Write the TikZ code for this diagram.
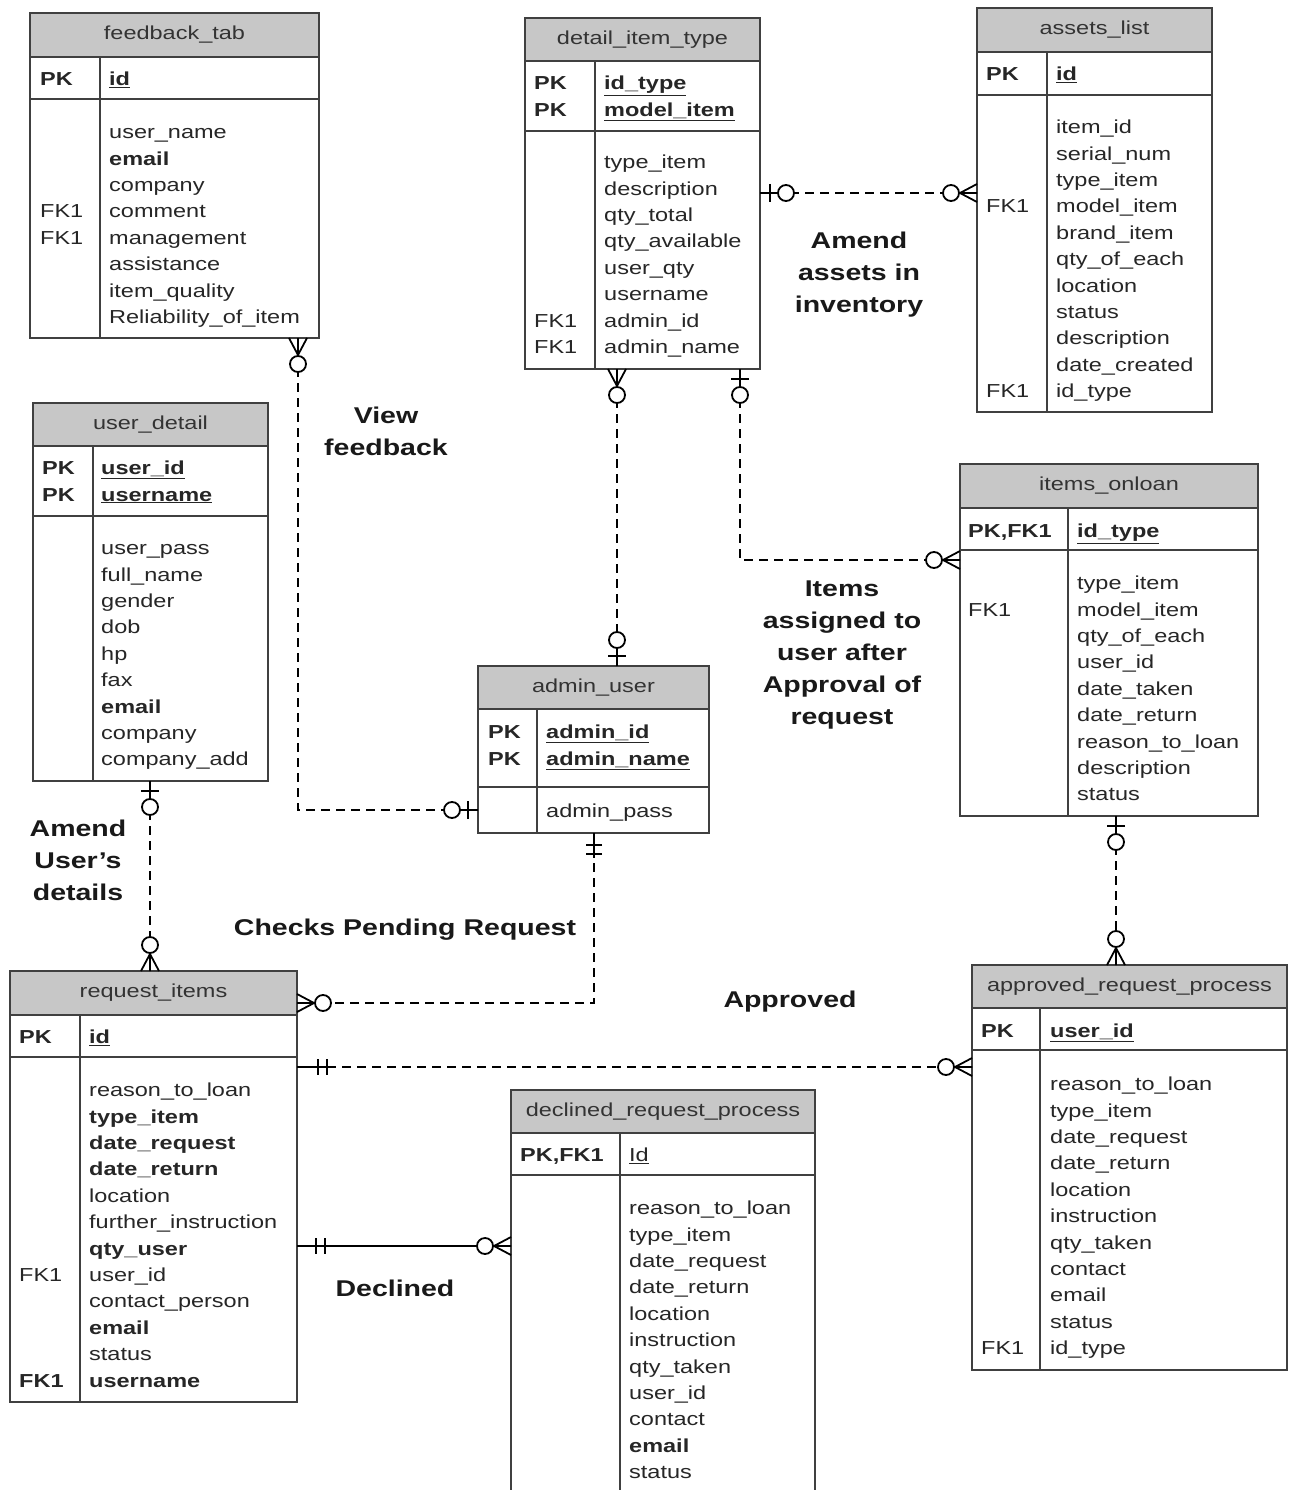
\documentclass[tikz,border=0pt]{standalone}
\usepackage{fontspec}
\setmainfont{Liberation Sans}[FakeStretch=1.25]
\usepackage{tikz}
\definecolor{hdrgray}{gray}{0.78}
\definecolor{tblgray}{gray}{0.25}
\tikzset{tbl/.style={draw=tblgray,line width=1.6pt,outer sep=0pt,inner sep=0pt}}
\tikzset{tblhead/.style={tbl,fill=hdrgray,text=black!80,
                         font=\fontsize{18.8}{22}\selectfont}}
\tikzset{tblrow/.style={tbl,fill=white}}
\tikzset{keytext/.style={anchor=mid west,inner sep=0pt,yshift=-5pt,text=black!85,
                         font=\fontsize{18.8}{22}\selectfont}}
\tikzset{fieldtext/.style={keytext}}
\tikzset{rel/.style={line width=1.8pt,dash pattern=on 9pt off 6pt}}
\tikzset{relsolid/.style={line width=1.8pt}}
\tikzset{ermark/.style={line width=1.8pt,solid}}
\tikzset{reltext/.style={font=\fontsize{22.8}{32}\selectfont\bfseries,
                         align=center,text=black!90}}
\newcommand{\pkf}[1]{\underline{\textbf{#1}}}
% name, title, left, right, top, head bottom, key bottom, bottom, divider
\newcommand{\ertable}[9]{%
  \node[tblhead,minimum width={(#4-#3)*1pt},minimum height={(#6-#5)*1pt}]
       (#1) at ({(#3+#4)/2},{(#5+#6)/2}) {#2};
  \node[tblrow,minimum width={(#4-#3)*1pt},minimum height={(#7-#6)*1pt}]
       (#1-key) at ({(#3+#4)/2},{(#6+#7)/2}) {};
  \node[tblrow,minimum width={(#4-#3)*1pt},minimum height={(#8-#7)*1pt}]
       (#1-body) at ({(#3+#4)/2},{(#7+#8)/2}) {};
  \draw[tbl] (#9,#6) -- (#9,#8);}
% prefix, key x, field x, first row y, key/field list
\newcommand{\fields}[5]{%
  \foreach \k/\f [count=\i from 0] in {#5}{%
    \node[keytext] (#1-k\i) at (#2,{#4+26.4*\i}) {\k};
    \node[fieldtext] (#1-f\i) at (#3,{#4+26.4*\i}) {\f};
  }}
\newcommand{\zeromany}[2]{\begin{scope}[shift={(#1)},rotate=#2]
    \draw[ermark] (0,-9) -- (17,0) -- (0,9) (0,0) -- (18,0);
    \draw[ermark,fill=white] (26,0) circle (8);
  \end{scope}}
\newcommand{\zeroone}[2]{\begin{scope}[shift={(#1)},rotate=#2]
    \draw[ermark] (0,0) -- (18,0) (10,-9) -- (10,9);
    \draw[ermark,fill=white] (26,0) circle (8);
  \end{scope}}
\newcommand{\onlyone}[3]{\begin{scope}[shift={(#1)},rotate=#2]
    \draw[ermark] (0,0) -- ({#3+13},0) (#3,-8) -- (#3,8)
                  ({#3+9},-8) -- ({#3+9},8);
  \end{scope}}

\begin{document}
\begin{tikzpicture}[x=1pt,y=-1pt]
    \useasboundingbox[fill=white] (0,0) rectangle (1293,1490);
    % Tables
    \ertable{fb}{feedback\_tab}{30}{319}{13}{57}{99}{338}{100}
    \fields{fb-p}{40}{109}{78}{\textbf{PK}/\pkf{id}}
    \fields{fb-a}{40}{109}{131}{/user\_name,/\textbf{email},/company,
        FK1/comment,FK1/management,/assistance,/item\_quality,
        /Reliability\_of\_item}

    \ertable{dit}{detail\_item\_type}{525}{760}{18}{61}{131}{369}{595}
    \fields{dit-p}{534}{604}{82}{\textbf{PK}/\pkf{id\_type},
        \textbf{PK}/\pkf{model\_item}}
    \fields{dit-a}{534}{604}{161}{/type\_item,/description,/qty\_total,
        /qty\_available,/user\_qty,/username,FK1/admin\_id,FK1/admin\_name}

    \ertable{al}{assets\_list}{977}{1212}{8}{52}{95}{412}{1047}
    \fields{al-p}{986}{1056}{73}{\textbf{PK}/\pkf{id}}
    \fields{al-a}{986}{1056}{126}{/item\_id,/serial\_num,/type\_item,
        FK1/model\_item,/brand\_item,/qty\_of\_each,/location,/status,
        /description,/date\_created,FK1/id\_type}

    \ertable{ud}{user\_detail}{33}{268}{403}{446}{516}{781}{93}
    \fields{ud-p}{42}{101}{467}{\textbf{PK}/\pkf{user\_id},
        \textbf{PK}/\pkf{username}}
    \fields{ud-a}{42}{101}{547}{/user\_pass,/full\_name,/gender,/dob,/hp,
        /fax,/\textbf{email},/company,/company\_add}

    \ertable{au}{admin\_user}{478}{709}{666}{709}{787}{833}{537}
    \fields{au-p}{488}{546}{731}{\textbf{PK}/\pkf{admin\_id},
        \textbf{PK}/\pkf{admin\_name}}
    \fields{au-a}{488}{546}{810}{/admin\_pass}

    \ertable{io}{items\_onloan}{960}{1258}{464}{508}{550}{816}{1068}
    \fields{io-p}{968}{1077}{530}{\textbf{PK,FK1}/\pkf{id\_type}}
    \fields{io-a}{968}{1077}{582}{/type\_item,FK1/model\_item,
        /qty\_of\_each,/user\_id,/date\_taken,/date\_return,
        /reason\_to\_loan,/description,/status}

    \ertable{ri}{request\_items}{10}{297}{971}{1015}{1057}{1402}{80}
    \fields{ri-p}{19}{89}{1036}{\textbf{PK}/\pkf{id}}
    \fields{ri-a}{19}{89}{1089}{/reason\_to\_loan,/\textbf{type\_item},
        /\textbf{date\_request},/\textbf{date\_return},/location,
        /further\_instruction,/\textbf{qty\_user},FK1/user\_id,
        /contact\_person,/\textbf{email},/status,
        \textbf{FK1}/\textbf{username}}

    \ertable{drp}{declined\_request\_process}{511}{815}{1090}{1133}{1175}{1500}{620}
    \fields{drp-p}{520}{629}{1154}{\textbf{PK,FK1}/\underline{Id}}
    \fields{drp-a}{520}{629}{1207}{/reason\_to\_loan,/type\_item,
        /date\_request,/date\_return,/location,/instruction,/qty\_taken,
        /user\_id,/contact,/\textbf{email},/status}

    \ertable{arp}{approved\_request\_process}{972}{1287}{965}{1008}{1050}{1370}{1040}
    \fields{arp-p}{981}{1050}{1030}{\textbf{PK}/\pkf{user\_id}}
    \fields{arp-a}{981}{1050}{1083}{/reason\_to\_loan,/type\_item,
        /date\_request,/date\_return,/location,/instruction,/qty\_taken,
        /contact,/email,/status,FK1/id\_type}

    % Relations
    \coordinate (c1a) at ([xshift=-21pt]fb-body.south east);
    \coordinate (c1b) at (au-body.west);
    \draw[rel] (c1a) |- (c1b);
    \coordinate (c2a) at ([yshift=57pt]dit-body.east);
    \coordinate (c2b) at (c2a -| al-body.west);
    \draw[rel] (c2a) -- (c2b);
    \coordinate (c3a) at ([xshift=-25.5pt]dit-body.south);
    \coordinate (c3b) at (c3a |- au.north);
    \draw[rel] (c3a) -- (c3b);
    \coordinate (c4a) at ([xshift=-20pt]dit-body.south east);
    \coordinate (c4b) at ([yshift=123pt]io-body.west);
    \draw[rel] (c4a) |- (c4b);
    \coordinate (c5a) at ([xshift=-0.5pt]ud-body.south);
    \coordinate (c5b) at (c5a |- ri.north);
    \draw[rel] (c5a) -- (c5b);
    \coordinate (c6a) at ([xshift=0.5pt]au-body.south);
    \coordinate (c6b) at ([yshift=-10pt]ri.east);
    \draw[rel] (c6a) |- (c6b);
    \coordinate (c7a) at ([yshift=-10pt]ri-key.south east);
    \coordinate (c7b) at (c7a -| arp-body.west);
    \draw[rel] (c7a) -- (c7b);
    \coordinate (c8a) at ([yshift=-189pt]ri-key.south east);
    \coordinate (c8b) at (c8a -| drp-body.west);
    \draw[relsolid] (c8a) -- (c8b);
    \coordinate (c9a) at ([xshift=7pt]io-body.south);
    \coordinate (c9b) at (c9a |- arp.north);
    \draw[rel] (c9a) -- (c9b);

    % Ends
    \zeromany{c1a}{-90} \zeroone{c1b}{180}
    \zeroone{c2a}{0}    \zeromany{c2b}{180}
    \zeromany{c3a}{-90} \zeroone{c3b}{90}
    \zeroone{c4a}{-90}  \zeromany{c4b}{180}
    \zeroone{c5a}{-90}  \zeromany{c5b}{90}
    \onlyone{c6a}{-90}{12} \zeromany{c6b}{0}
    \onlyone{c7a}{0}{21}   \zeromany{c7b}{180}
    \onlyone{c8a}{0}{19}   \zeromany{c8b}{180}
    \zeroone{c9a}{-90}  \zeromany{c9b}{90}

    % Labels
    \node[reltext] (viewfb) at (386,431) {View\\feedback};
    \node[reltext] (amendassets) at (859,275) {Amend\\assets in\\inventory};
    \node[reltext] (assigned) at (842,655) {Items\\assigned to\\user after\\Approval of\\request};
    \node[reltext] (amenduser) at (78,860) {Amend\\User’s\\details};
    \node[reltext] (checks) at (405,930) {Checks Pending Request};
    \node[reltext] (approved) at (790,1002) {Approved};
    \node[reltext] (declined) at (395,1288) {Declined};
\end{tikzpicture}
\end{document}
